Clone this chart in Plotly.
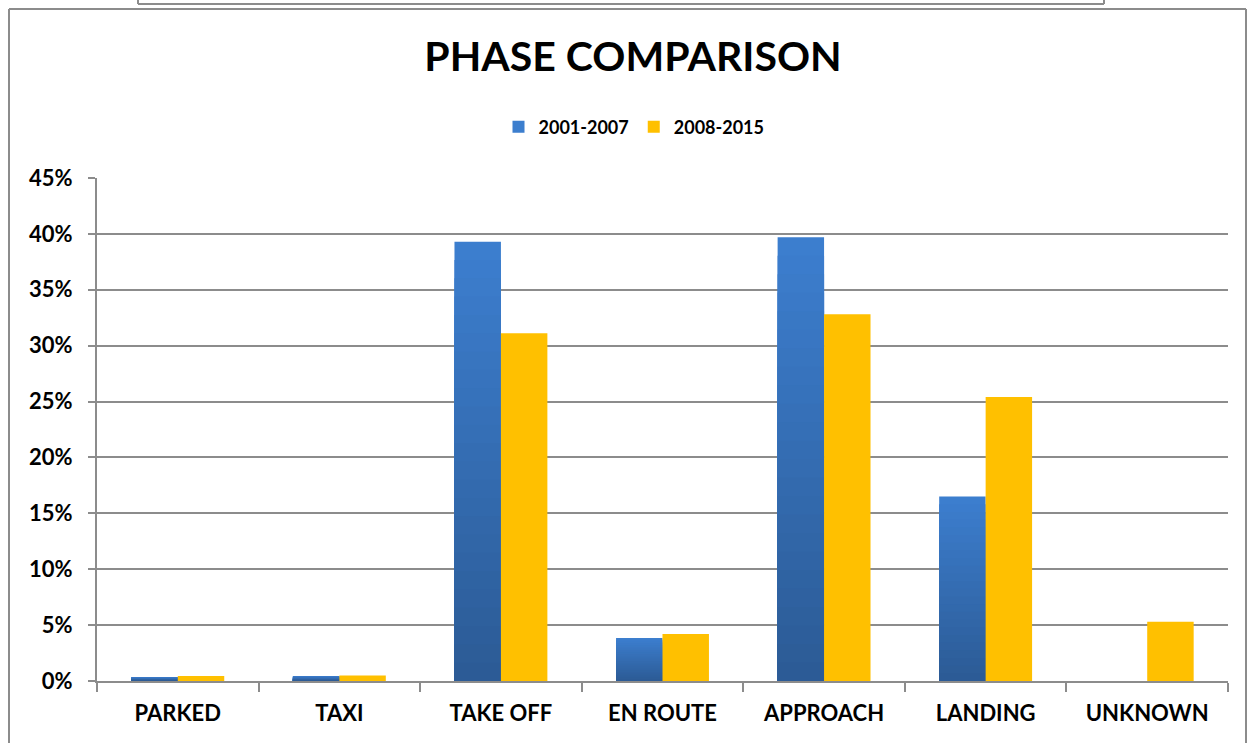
import plotly.graph_objects as go

categories = ["PARKED", "TAXI", "TAKE OFF", "EN ROUTE", "APPROACH", "LANDING", "UNKNOWN"]
series_2001_2007 = [0.0036, 0.0045, 0.393, 0.0385, 0.397, 0.165, 0.0]
series_2008_2015 = [0.0045, 0.0050, 0.311, 0.0420, 0.328, 0.254, 0.053]
y_tick_values = [0, 0.05, 0.10, 0.15, 0.20, 0.25, 0.30, 0.35, 0.40, 0.45]
y_tick_labels = ["0%", "5%", "10%", "15%", "20%", "25%", "30%", "35%", "40%", "45%"]

W, H = 1255, 743
L, R, T, B = 97, 1228, 178, 681
FONT = "Lato"

fig = go.Figure()

# Blue series with vertical gradient (lighter top, darker bottom), built by overlaying scaled copies
N = 24
top_rgb = (60, 126, 206)
bot_rgb = (44, 91, 150)
for k in range(N):
    t = k / (N - 1)
    c = tuple(round(top_rgb[i] + (bot_rgb[i] - top_rgb[i]) * t) for i in range(3))
    frac = (N - k) / N
    fig.add_trace(go.Bar(
        x=categories,
        y=[v * frac for v in series_2001_2007],
        name="2001-2007",
        offsetgroup="a",
        legendgroup="a",
        showlegend=(k == 0),
        marker=dict(color="rgb(%d,%d,%d)" % c, line=dict(width=0)),
        hoverinfo="skip" if k else None,
    ))

fig.add_trace(go.Bar(
    x=categories,
    y=series_2008_2015,
    name="2008-2015",
    offsetgroup="b",
    marker=dict(color="#FFC000", line=dict(width=0)),
))

def px_x(px):
    return (px - L) / (R - L)

def px_y(py):
    return (B - py) / (B - T)

line_style = dict(color="#8c8c8c", width=2)
shapes = [
    # outer chart border
    dict(type="line", xref="paper", yref="paper", x0=px_x(9), x1=px_x(1246), y0=px_y(9), y1=px_y(9), line=line_style),
    dict(type="line", xref="paper", yref="paper", x0=px_x(9), x1=px_x(9), y0=px_y(9), y1=px_y(745), line=line_style),
    dict(type="line", xref="paper", yref="paper", x0=px_x(1246), x1=px_x(1246), y0=px_y(9), y1=px_y(745), line=line_style),
    # box above the chart (bottom edge visible)
    dict(type="line", xref="paper", yref="paper", x0=px_x(138), x1=px_x(1104), y0=px_y(4), y1=px_y(4), line=line_style),
    dict(type="line", xref="paper", yref="paper", x0=px_x(138), x1=px_x(138), y0=px_y(4), y1=px_y(-2), line=line_style),
    dict(type="line", xref="paper", yref="paper", x0=px_x(1104), x1=px_x(1104), y0=px_y(4), y1=px_y(-2), line=line_style),
]

fig.update_layout(
    width=W, height=H,
    margin=dict(l=L, r=W - R, t=T, b=H - B, pad=0),
    paper_bgcolor="white",
    plot_bgcolor="white",
    barmode="group",
    bargap=0.425,
    bargroupgap=0,
    font=dict(family=FONT, color="black"),
    title=dict(
        text="<b>PHASE COMPARISON</b>",
        x=633 / W, xanchor="center",
        y=1 - 57 / H, yanchor="middle",
        font=dict(family=FONT, size=41, color="black"),
    ),
    legend=dict(
        orientation="h",
        x=px_x(634), xanchor="center",
        y=px_y(127), yanchor="middle",
        font=dict(family=FONT, size=18, color="black", weight="bold"),
        itemwidth=30,
        traceorder="normal",
    ),
    shapes=shapes,
    showlegend=True,
)

fig.update_xaxes(
    type="category",
    showline=True, linecolor="#8c8c8c", linewidth=2,
    ticks="outside", tickson="boundaries", ticklen=9, tickcolor="#8c8c8c", tickwidth=2,
    tickfont=dict(family=FONT, size=22, color="black", weight="bold"),
    ticklabelstandoff=12,
    showgrid=False,
)
fig.update_yaxes(
    range=[0, 0.45],
    tickvals=y_tick_values, ticktext=y_tick_labels,
    showline=True, linecolor="#8c8c8c", linewidth=2,
    ticks="outside", ticklen=7, tickcolor="#8c8c8c", tickwidth=2,
    showgrid=True, gridcolor="#8c8c8c", gridwidth=2,
    zeroline=False,
    tickfont=dict(family=FONT, size=22, color="black", weight="bold"),
    ticklabelstandoff=11,
)

fig.write_html(
    "out.html",
    config={"displayModeBar": False},
    post_script="document.body.style.margin='0px';",
)
